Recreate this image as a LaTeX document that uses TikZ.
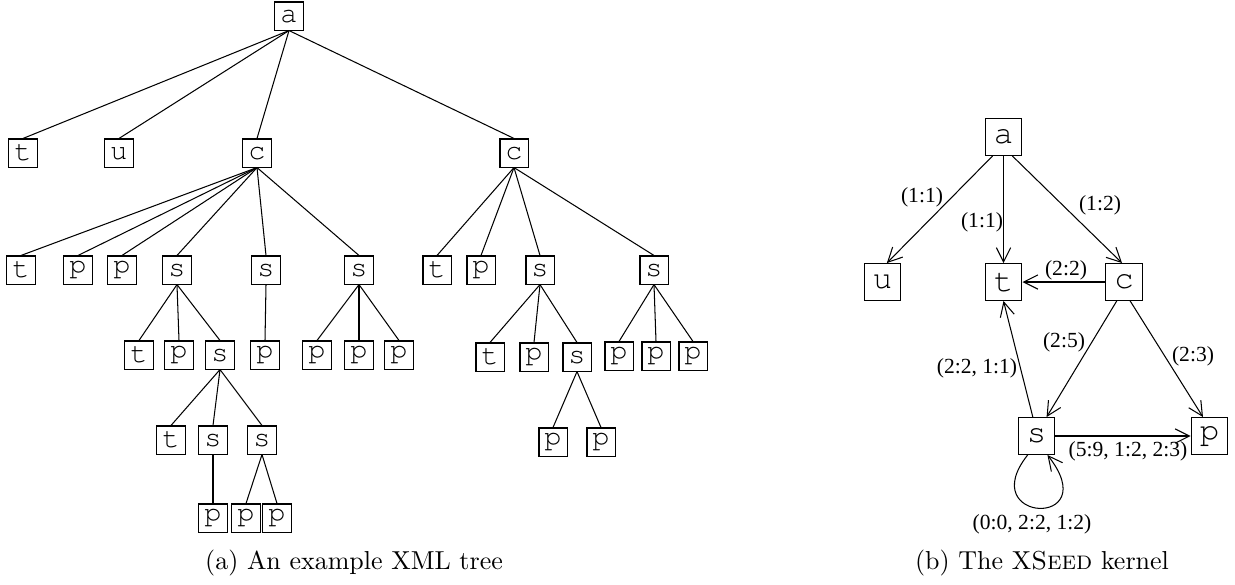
\documentclass[tikz,border=0pt]{standalone}
\usepackage{fontspec}
\usepackage{tikz}
\usetikzlibrary{arrows.meta}
\newfontfamily\lblfont{Liberation Serif}
\newcommand{\crfont}{\usefont{OT1}{pcr}{m}{n}}

\begin{document}
\begin{tikzpicture}[x=0.385pt, y=-0.385pt, >={Straight Barb[length=5.5pt,width=5.5pt]},
    tbox/.style={draw, minimum size=10.8pt, inner sep=0pt, font=\fontsize{11}{13}\crfont},
    kbox/.style={draw, minimum size=14.2pt, inner sep=0pt, font=\fontsize{12.5}{14}\crfont},
    lbl/.style={inner sep=0pt, font=\fontsize{8.3}{10}\selectfont\lblfont}]
    \useasboundingbox (0,0) rectangle (1235,584);

    % (a) the XML tree
    \node[tbox] (a) at (289,16) {a};
    \node[tbox] (t1) at (23,153) {t};
    \node[tbox] (u1) at (119,153) {u};
    \node[tbox] (c1) at (257,153) {c};
    \node[tbox] (c2) at (514,153) {c};

    \node[tbox] (c1t) at (21,270) {t};
    \node[tbox] (c1p1) at (78,270) {p};
    \node[tbox] (c1p2) at (122,270) {p};
    \node[tbox] (c1s1) at (177,270) {s};
    \node[tbox] (c1s2) at (266,270) {s};
    \node[tbox] (c1s3) at (359,270) {s};

    \node[tbox] (c2t) at (437,270) {t};
    \node[tbox] (c2p) at (481,270) {p};
    \node[tbox] (c2s1) at (540,270) {s};
    \node[tbox] (c2s2) at (654,270) {s};

    \node[tbox] (s1t) at (139,355) {t};
    \node[tbox] (s1p) at (179,355) {p};
    \node[tbox] (s1s) at (220,355) {s};
    \node[tbox] (s2p) at (265,355) {p};
    \node[tbox] (s3p1) at (317,355) {p};
    \node[tbox] (s3p2) at (359,355) {p};
    \node[tbox] (s3p3) at (399,355) {p};

    \node[tbox] (s4t) at (490,357) {t};
    \node[tbox] (s4p) at (534,357) {p};
    \node[tbox] (s4s) at (577,357) {s};
    \node[tbox] (s5p1) at (619,356) {p};
    \node[tbox] (s5p2) at (656,356) {p};
    \node[tbox] (s5p3) at (693,356) {p};

    \node[tbox] (ss1t) at (171,440) {t};
    \node[tbox] (ss1s1) at (213,440) {s};
    \node[tbox] (ss1s2) at (262,440) {s};
    \node[tbox] (ss2p1) at (553,442) {p};
    \node[tbox] (ss2p2) at (601,442) {p};

    \node[tbox] (leafp1) at (213,518) {p};
    \node[tbox] (leafp2) at (246,518) {p};
    \node[tbox] (leafp3) at (277,518) {p};

    \foreach \up/\kid in {a/t1, a/u1, a/c1, a/c2,
        c1/c1t, c1/c1p1, c1/c1p2, c1/c1s1, c1/c1s2, c1/c1s3,
        c2/c2t, c2/c2p, c2/c2s1, c2/c2s2,
        c1s1/s1t, c1s1/s1p, c1s1/s1s, c1s2/s2p,
        c1s3/s3p1, c1s3/s3p2, c1s3/s3p3,
        c2s1/s4t, c2s1/s4p, c2s1/s4s,
        c2s2/s5p1, c2s2/s5p2, c2s2/s5p3,
        s1s/ss1t, s1s/ss1s1, s1s/ss1s2,
        s4s/ss2p1, s4s/ss2p2,
        ss1s1/leafp1, ss1s2/leafp2, ss1s2/leafp3}
      \draw (\up.south) -- (\kid.north);

    \node (capa) at (354,563) {(a) An example XML tree};

    % (b) the kernel
    \node[kbox] (ka) at (1003.5,137) {a};
    \node[kbox] (ku) at (882.5,282) {u};
    \node[kbox] (kt) at (1003.5,282) {t};
    \node[kbox] (kc) at (1124,282) {c};
    \node[kbox] (ks) at (1036.5,436) {s};
    \node[kbox] (kp) at (1209.5,436) {p};

    \draw[->] (ka.240) -- (ku.77);
    \draw[->] (ka) -- (kt);
    \draw[->] (ka.295) -- (kc.96);
    \draw[->] (kc) -- (kt);
    \draw[->] (kc.249) -- (ks.62);
    \draw[->] (kc.288) -- (kp.109);
    \draw[->] (ks.101) -- (kt.south);
    \draw[->] (ks) -- (kp);
    \draw[->] (ks.245) .. controls +(-54,68) and +(58,74) .. (ks.300);

    \node[lbl] (l1) at (922,197) {(1:1)};
    \node[lbl] (l2) at (982,222) {(1:1)};
    \node[lbl] (l3) at (1100,205) {(1:2)};
    \node[lbl] (l4) at (1066,270) {(2:2)};
    \node[lbl] (l5) at (1064,342) {(2:5)};
    \node[lbl] (l6) at (1193,356) {(2:3)};
    \node[lbl] (l7) at (977,368) {(2:2, 1:1)};
    \node[lbl] (l8) at (1128,451) {(5:9, 1:2, 2:3)};
    \node[lbl] (l9) at (1032,524) {(0:0, 2:2, 1:2)};

    \node (capb) at (1042,563) {(b) The X\textsc{Seed} kernel};
\end{tikzpicture}
\end{document}
